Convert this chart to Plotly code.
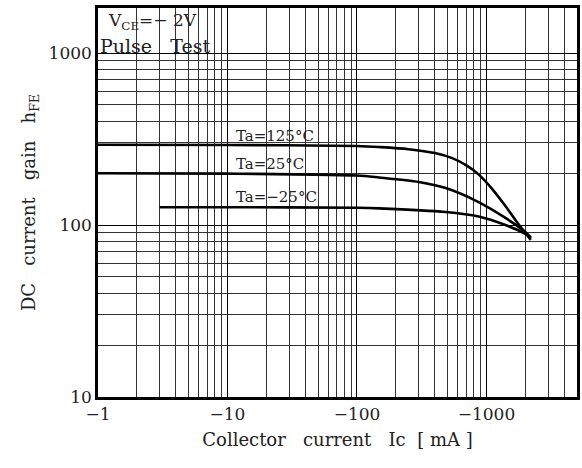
import numpy as np
import plotly.graph_objects as go

# ---- data ----
ic_125 = [1, 10, 100, 148, 250, 400, 550, 700, 868, 1100, 1400, 1750, 2200]
hfe_125 = [293, 292, 288, 284, 276, 262, 244, 222, 197, 163, 129, 102, 82]

ic_25 = [1, 10, 100, 148, 300, 484, 868, 1400, 1995, 2200]
hfe_25 = [200, 199, 194, 189, 178, 164, 136, 110, 91, 84]

ic_m25 = [3, 10, 100, 148, 484, 868, 1400, 1995, 2200]
hfe_m25 = [127, 127, 126, 125, 119, 112, 100, 89, 85]

x_tickvals = [1, 10, 100, 1000]
x_ticktext = ["\u22121", "\u221210", "\u2212100", "\u22121000"]
y_tickvals = [10, 100, 1000]
y_ticktext = ["10", "100", "1000"]

curve_labels = ["Ta=125\u00b0C", "Ta=25\u00b0C", "Ta=\u221225\u00b0C"]

FONT = "DejaVu Serif"
TXT = "#222"

fig = go.Figure()

# curve labels (text traces drawn beneath the curves)
label_x = 10 ** 1.065
label_logy = [2.512, 2.349, 2.157]
label_logw = [0.60, 0.52, 0.63]
for txt, ly, lw in zip(curve_labels, label_logy, label_logw):
    fig.add_shape(type="rect", xref="x", yref="y",
                  x0=label_x, x1=label_x * 10 ** lw,
                  y0=10 ** (ly - 0.035), y1=10 ** (ly + 0.047),
                  fillcolor="white", line=dict(width=0), layer="below")
    fig.add_trace(go.Scatter(x=[label_x], y=[10 ** ly], mode="text", text=[txt],
                             textposition="middle right",
                             textfont=dict(family=FONT, size=15, color=TXT),
                             showlegend=False, hoverinfo="skip"))

for xs, ys in [(ic_125, hfe_125), (ic_25, hfe_25), (ic_m25, hfe_m25)]:
    fig.add_trace(go.Scatter(x=xs, y=ys, mode="lines",
                             line=dict(color="black", width=2.6, shape="spline", smoothing=0.8),
                             showlegend=False, hoverinfo="skip"))

x_minor = [m * 10 ** d for d in range(0, 4) for m in range(2, 10)]
y_minor = [m * 10 ** d for d in range(1, 3) for m in range(2, 10)]

fig.update_xaxes(type="log", range=[0, np.log10(5000)],
                 tickmode="array", tickvals=x_tickvals, ticktext=x_ticktext,
                 showgrid=True, gridcolor="#000", gridwidth=1.3,
                 minor=dict(tickmode="array", tickvals=x_minor, showgrid=True,
                            gridcolor="#333", gridwidth=1, ticks=""),
                 showline=True, linecolor="black", linewidth=2.5, mirror=True,
                 ticks="", zeroline=False,
                 tickfont=dict(family=FONT, size=17, color=TXT),
                 title=dict(text="Collector\u00a0\u00a0\u00a0current\u00a0\u00a0\u00a0Ic\u00a0\u00a0[\u00a0mA\u00a0]",
                            font=dict(family=FONT, size=18, color=TXT), standoff=11))
fig.update_yaxes(type="log", range=[1, 3.262],
                 tickmode="array", tickvals=y_tickvals, ticktext=y_ticktext,
                 showgrid=True, gridcolor="#000", gridwidth=1.3,
                 minor=dict(tickmode="array", tickvals=y_minor, showgrid=True,
                            gridcolor="#333", gridwidth=1, ticks=""),
                 showline=True, linecolor="black", linewidth=2.5, mirror=True,
                 ticks="", zeroline=False,
                 tickfont=dict(family=FONT, size=17, color=TXT),
                 title=dict(text="DC\u00a0\u00a0\u00a0current\u00a0\u00a0\u00a0gain\u00a0\u00a0\u00a0h<sub>FE</sub>",
                            font=dict(family=FONT, size=18, color=TXT), standoff=9))

# white box behind the condition text (upper-left)
fig.add_shape(type="rect", xref="x", yref="y", x0=1, x1=10, y0=945, y1=10 ** 3.262,
              fillcolor="white", line=dict(width=0), layer="below")

# condition text
fig.add_annotation(x=0.06, y=3.185, xref="x", yref="y", xanchor="left", yanchor="middle",
                   text="V<sub>CE</sub>=\u2212\u00a02V", showarrow=False,
                   font=dict(family=FONT, size=17, color=TXT))
fig.add_annotation(x=0.0, y=3.04, xref="x", yref="y", xanchor="left", yanchor="middle",
                   text="Pulse\u00a0\u00a0\u00a0Test", showarrow=False,
                   font=dict(family=FONT, size=19, color=TXT))

fig.update_layout(width=582, height=468, margin=dict(l=98, r=2, t=8, b=71),
                  paper_bgcolor="white", plot_bgcolor="white")

fig.write_html("out.html")
